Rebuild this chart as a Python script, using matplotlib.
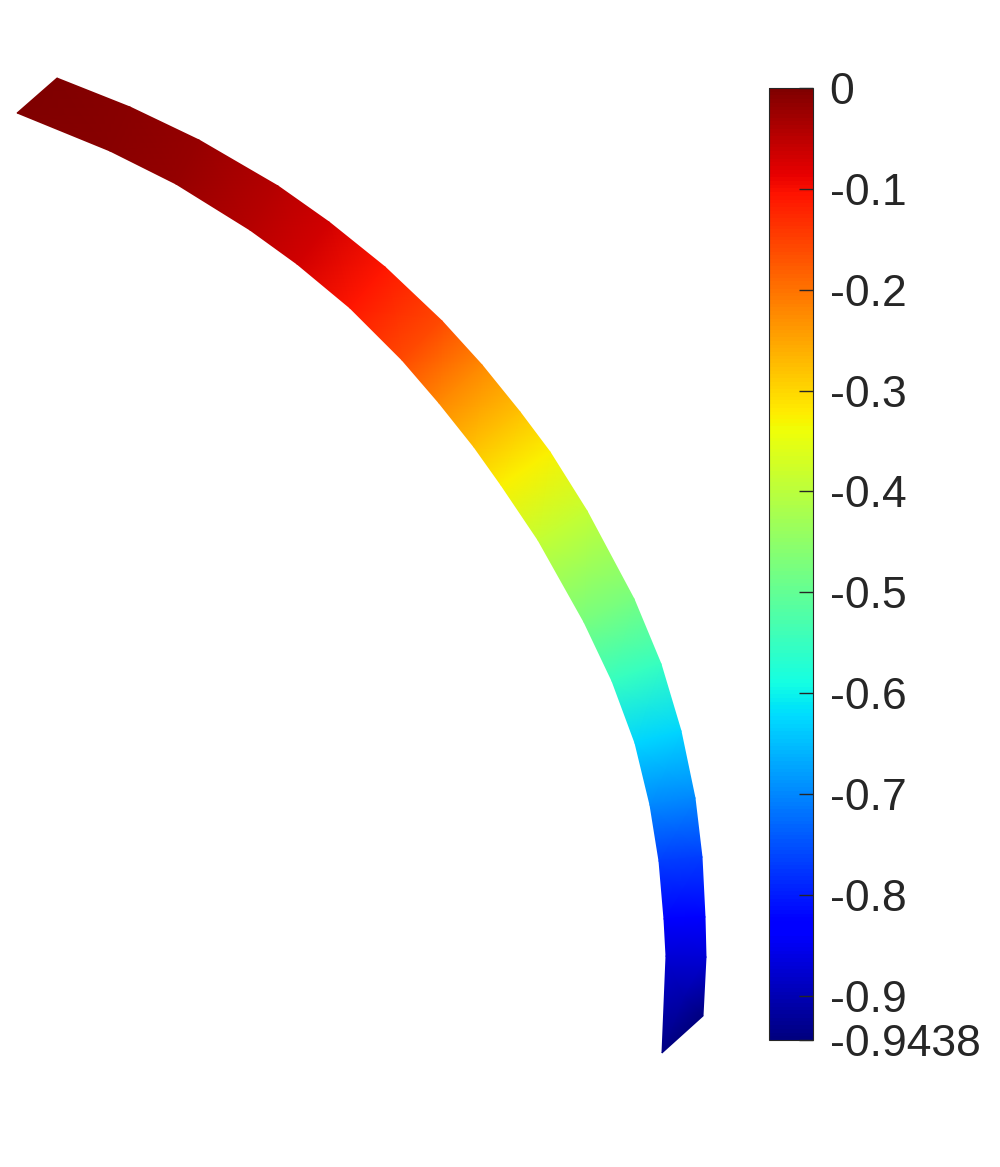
import matplotlib.pyplot as plt
import numpy as np

plt.rcParams['font.family'] = ['Liberation Sans', 'DejaVu Sans']

# bordes de la franja (px) y valor en cada estación
borde_ext_x = [57, 130, 199, 278, 329, 385, 442, 482, 520, 550, 587, 634, 661, 681, 695, 702, 705, 706, 703]
borde_ext_y = [78, 107, 140, 186, 222, 267, 321, 365, 412, 452, 511, 599, 664, 731, 798, 857, 917, 957, 1016]
borde_int_x = [17, 110, 176, 250, 297, 350, 402, 439, 474, 501, 538, 584, 612, 635, 650, 659, 664, 666, 662]
borde_int_y = [113, 151, 184, 230, 264, 308, 360, 403, 447, 485, 540, 622, 681, 743, 805, 861, 919, 956, 1053]
valores = [0, -0.008, -0.022, -0.045, -0.07, -0.108, -0.16, -0.222, -0.28, -0.328,
           -0.39, -0.478, -0.552, -0.628, -0.70, -0.768, -0.833, -0.873, -0.9438]

ticks_cb = [-0.9438, -0.9, -0.8, -0.7, -0.6, -0.5, -0.4, -0.3, -0.2, -0.1, 0]
etiquetas_cb = ['-0.9438', '-0.9', '-0.8', '-0.7', '-0.6', '-0.5', '-0.4', '-0.3', '-0.2', '-0.1', '0']

fig = plt.figure(figsize=(10, 11.67), dpi=100)
ax = fig.add_axes([0, 0, 1, 1])

X = np.array([borde_ext_x, borde_int_x])
Y = np.array([borde_ext_y, borde_int_y])
C = np.array([valores, valores])
malla = ax.pcolormesh(X, Y, C, cmap='jet', vmin=min(valores), vmax=max(valores),
                      shading='gouraud', antialiased=True)

ax.set_xlim(0, 1000)
ax.set_ylim(1167, 0)
ax.set_aspect('equal')
ax.axis('off')

# barra de colores a la derecha
cax = fig.add_axes([0.769, 0.1088, 0.044, 0.8158])
cb = fig.colorbar(malla, cax=cax, ticks=ticks_cb)
cb.ax.set_yticklabels(etiquetas_cb)
cb.ax.tick_params(direction='in', length=10, width=1, labelsize=32, pad=12,
                  colors='#262626')
cb.outline.set_edgecolor('#262626')
cb.outline.set_linewidth(0.8)

fig.savefig('out.png', dpi=100)
